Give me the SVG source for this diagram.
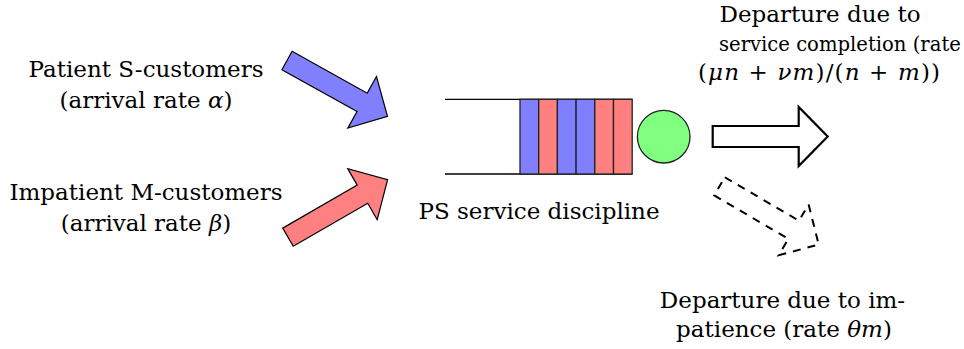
<svg xmlns="http://www.w3.org/2000/svg" width="964" height="349" viewBox="0 0 964 349">
  <style>
    text { font-family: "DejaVu Serif", "Liberation Serif", serif; font-size: 23px; fill: #000; }
    .m { font-style: italic; }
    .mid { text-anchor: middle; }
    .cell { stroke: #222; stroke-width: 1.3; }
    .b { fill: #8080ff; }
    .r { fill: #ff8080; }
  </style>
  <defs>
    <path id="arrow" d="M0,-10.5 L86,-10.5 L86,-29.5 L115,0 L86,29.5 L86,10.5 L0,10.5 Z"/>
  </defs>

  <g id="connectors">
    <use id="arrival-s" href="#arrow" transform="translate(287,60.5) rotate(29.1)" fill="#8080ff" stroke="#000" stroke-width="1.2"/>
    <use id="arrival-m" href="#arrow" transform="translate(288,237.2) rotate(-30)" fill="#ff8080" stroke="#000" stroke-width="1.2"/>
    <use id="departure-service" href="#arrow" transform="translate(712.7,136.5)" fill="#fff" stroke="#000" stroke-width="2.2"/>
    <use id="departure-impatience" href="#arrow" transform="translate(719.5,186.3) rotate(30.4)" fill="none" stroke="#000" stroke-width="2" stroke-dasharray="8 7"/>
  </g>

  <g id="source-s">
    <text class="mid" x="146" y="77">Patient S-customers</text>
    <text class="mid" x="146" y="108">(arrival rate <tspan class="m">α</tspan>)</text>
  </g>

  <g id="source-m">
    <text class="mid" x="146" y="200">Impatient M-customers</text>
    <text class="mid" x="146" y="231">(arrival rate <tspan class="m">β</tspan>)</text>
  </g>

  <g id="queue">
    <line x1="445" y1="99.3" x2="632.3" y2="99.3" stroke="#000" stroke-width="1.3"/>
    <line x1="445" y1="174" x2="632.3" y2="174" stroke="#000" stroke-width="1.3"/>
    <rect class="cell b" x="520" y="99.3" width="18.7" height="74.7"/>
    <rect class="cell r" x="538.7" y="99.3" width="18.7" height="74.7"/>
    <rect class="cell b" x="557.4" y="99.3" width="18.7" height="74.7"/>
    <rect class="cell b" x="576.1" y="99.3" width="18.7" height="74.7"/>
    <rect class="cell r" x="594.8" y="99.3" width="18.7" height="74.7"/>
    <rect class="cell r" x="613.5" y="99.3" width="18.7" height="74.7"/>
    <text class="mid" x="539" y="219">PS service discipline</text>
  </g>

  <g id="server">
    <circle cx="663.7" cy="136.7" r="26.3" fill="#80ff80" stroke="#222" stroke-width="1.3"/>
  </g>

  <g id="label-service">
    <text class="mid" x="820" y="22">Departure due to</text>
    <text x="719" y="51" style="font-size:19.6px">service completion (rate</text>
    <text x="698" y="80" textLength="242" lengthAdjust="spacing">(<tspan class="m">μn</tspan> + <tspan class="m">νm</tspan>)/(<tspan class="m">n</tspan> + <tspan class="m">m</tspan>))</text>
  </g>

  <g id="label-impatience">
    <text class="mid" x="782.5" y="308">Departure due to im-</text>
    <text class="mid" x="784" y="337">patience (rate <tspan class="m">θm</tspan>)</text>
  </g>
</svg>
